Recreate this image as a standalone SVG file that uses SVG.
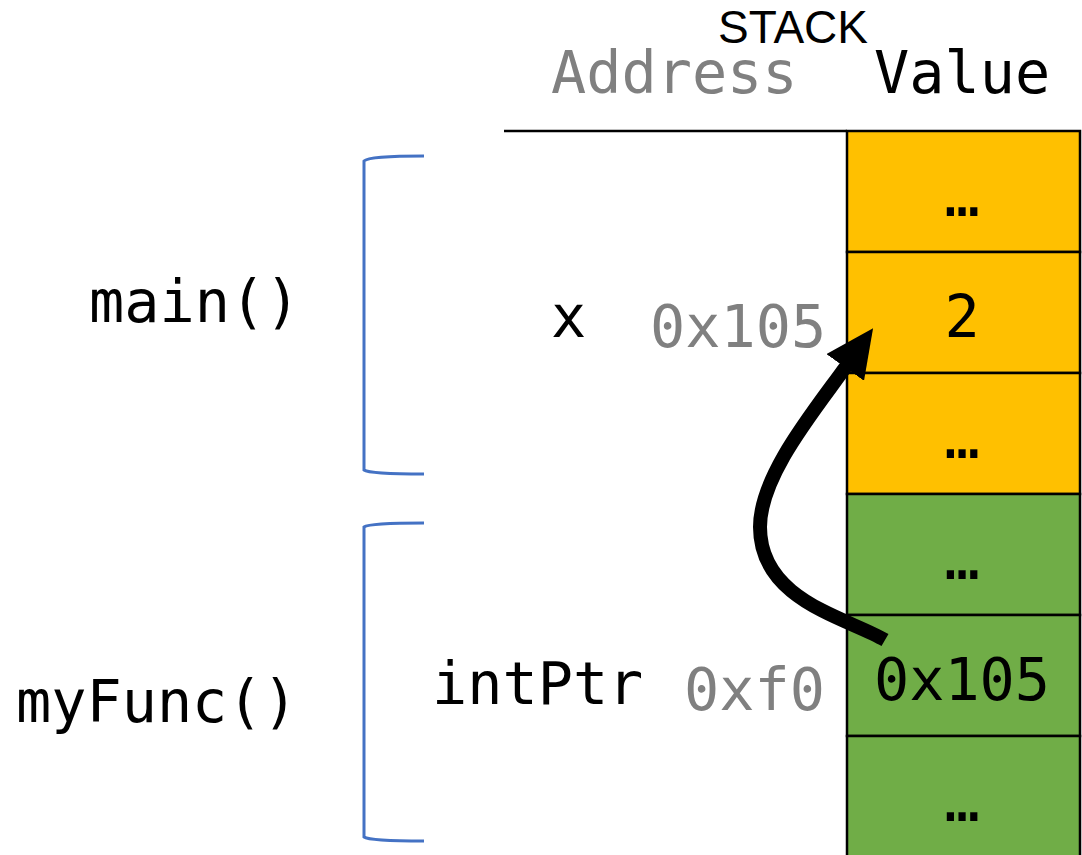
<svg xmlns="http://www.w3.org/2000/svg" width="1082" height="855" viewBox="0 0 1082 855">
  <style>
    .mono { font-family: "DejaVu Sans Mono", "Liberation Mono", monospace; font-size: 58.5px; }
    .addr { fill: #808080; }
    .ink { fill: #000000; }
    .cell { stroke: #000000; stroke-width: 2.5; }
    .main { fill: #FFC000; }
    .func { fill: #70AD47; }
    .brace { fill: none; stroke: #4472C4; stroke-width: 3; }
  </style>
  <defs>
    <marker id="head" markerUnits="userSpaceOnUse" viewBox="0 0 48 46" markerWidth="48" markerHeight="46" refX="3" refY="23" orient="auto">
      <path d="M0,0 L48,23 L0,46 z" fill="#000"/>
    </marker>
  </defs>

  <rect width="1082" height="855" fill="#ffffff"/>

  <!-- headers -->
  <g id="header">
    <text x="793" y="43" text-anchor="middle" font-family="'Liberation Sans', Arial, sans-serif" font-size="46" fill="#000">STACK</text>
    <text x="551" y="93" class="mono addr">Address</text>
    <text x="874" y="93" class="mono ink">Value</text>
    <line x1="504" y1="131" x2="847" y2="131" stroke="#000" stroke-width="2.5"/>
  </g>

  <!-- stack cells -->
  <g id="cell-main-top">
    <rect x="847" y="131" width="233" height="121" class="cell main"/>
    <text x="962" y="216" text-anchor="middle" class="mono ink">…</text>
  </g>
  <g id="cell-x">
    <rect x="847" y="252" width="233" height="121" class="cell main"/>
    <text x="962" y="337" text-anchor="middle" class="mono ink">2</text>
  </g>
  <g id="cell-main-bottom">
    <rect x="847" y="373" width="233" height="121" class="cell main"/>
    <text x="962" y="458" text-anchor="middle" class="mono ink">…</text>
  </g>
  <g id="cell-func-top">
    <rect x="847" y="494" width="233" height="121" class="cell func"/>
    <text x="962" y="579" text-anchor="middle" class="mono ink">…</text>
  </g>
  <g id="cell-intPtr">
    <rect x="847" y="615" width="233" height="121" class="cell func"/>
    <text x="962" y="700" text-anchor="middle" class="mono ink">0x105</text>
  </g>
  <g id="cell-func-bottom">
    <rect x="847" y="736" width="233" height="125" class="cell func"/>
    <text x="962" y="821" text-anchor="middle" class="mono ink">…</text>
  </g>

  <!-- variable labels and addresses -->
  <g id="label-x">
    <text x="551" y="337" class="mono ink">x</text>
    <text x="650" y="347" class="mono addr">0x105</text>
  </g>
  <g id="label-intPtr">
    <text x="432" y="704" class="mono ink">intPtr</text>
    <text x="684" y="710" class="mono addr">0xf0</text>
  </g>

  <!-- stack frames -->
  <g id="frame-main">
    <path class="brace" d="M424,156 C395,156 368,157 364,161 L364,470 C368,473 395,474 424,474"/>
    <text x="89" y="322" class="mono ink">main()</text>
  </g>
  <g id="frame-myFunc">
    <path class="brace" d="M424,523 C395,523 368,524 364,527 L364,837 C368,840 395,841 424,841"/>
    <text x="16" y="722" class="mono ink">myFunc()</text>
  </g>

  <!-- pointer connector -->
  <g id="connectors">
    <path d="M885,640 C845,617 760,600 760,527 C760,475 815,410 847,365" fill="none" stroke="#000" stroke-width="14" marker-end="url(#head)"/>
  </g>
</svg>
